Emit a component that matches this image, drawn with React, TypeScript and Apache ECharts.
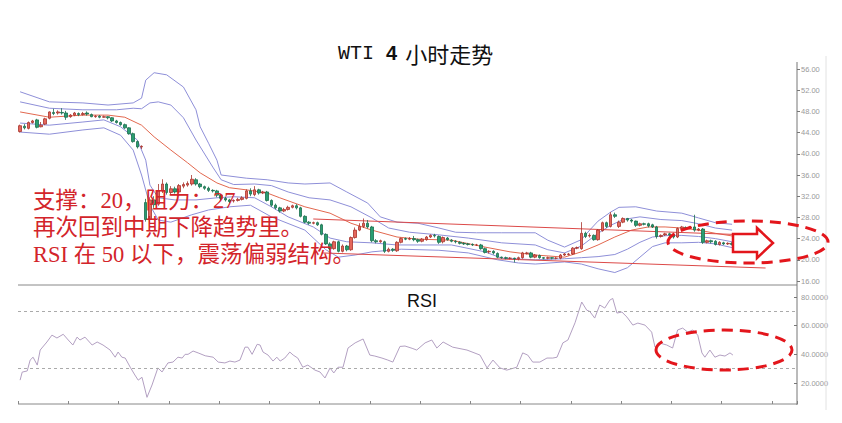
import React, { useEffect, useRef } from "react";
import * as echarts from "echarts";

// ---------- data ----------
const CATEGORY_COUNT = 186; // chart keeps empty room on the right for the annotation arrow

// [open, close, low, high] per 4-hour candle
const candles: [number, number, number, number][] = [
  [44.2, 45.3, 44.0, 45.5], [45.2, 44.9, 44.6, 45.6], [44.8, 45.9, 44.6, 46.1], [45.9, 46.2, 45.7, 46.4],
  [46.4, 45.0, 44.8, 46.6], [45.1, 45.4, 45.0, 46.0], [45.6, 46.6, 45.4, 46.8], [46.7, 47.9, 46.5, 48.0],
  [47.8, 47.6, 47.3, 48.5], [47.7, 47.9, 47.4, 48.2], [47.8, 47.7, 47.4, 48.6], [47.7, 46.9, 46.4, 48.1],
  [47.0, 47.3, 46.8, 47.5], [47.3, 47.7, 47.1, 47.9], [47.6, 47.4, 47.1, 47.8], [47.4, 47.6, 47.2, 47.9],
  [47.7, 47.5, 47.2, 48.0], [47.4, 47.0, 46.9, 47.6], [47.0, 47.1, 46.8, 47.3], [47.1, 46.9, 46.7, 47.3],
  [46.9, 47.0, 46.8, 47.2], [47.0, 46.8, 46.5, 47.1], [46.8, 46.2, 46.0, 46.9], [46.2, 45.9, 45.7, 46.4],
  [45.9, 45.5, 45.3, 46.1], [45.5, 44.9, 44.7, 45.7], [44.9, 43.8, 43.6, 45.0], [43.8, 42.3, 42.1, 44.0],
  [42.3, 41.3, 41.0, 42.5], [41.3, 41.4, 40.9, 41.6], [30.8, 27.6, 27.2, 31.5], [27.6, 31.3, 27.0, 31.8],
  [31.3, 30.4, 29.8, 32.0], [30.5, 33.0, 30.2, 34.3], [33.0, 34.3, 32.6, 35.2], [34.3, 32.7, 32.3, 34.6],
  [32.7, 33.4, 32.4, 33.9], [33.4, 32.8, 32.5, 33.8], [32.8, 34.0, 32.6, 34.3], [33.9, 34.2, 33.5, 34.6],
  [34.1, 34.4, 33.8, 34.8], [34.3, 35.2, 34.0, 36.0], [35.1, 34.3, 34.0, 35.4], [34.3, 33.8, 33.5, 34.5],
  [33.8, 33.5, 33.2, 34.0], [33.5, 33.1, 32.8, 33.8], [33.1, 33.0, 32.7, 33.3], [33.0, 32.2, 31.8, 33.2],
  [32.2, 31.6, 31.3, 32.4], [31.6, 31.3, 31.0, 31.9], [31.3, 31.0, 30.7, 31.5], [31.1, 31.2, 30.8, 31.4],
  [31.2, 31.4, 31.0, 31.7], [31.4, 31.7, 31.2, 32.0], [31.6, 33.0, 31.4, 33.3], [33.0, 32.4, 32.0, 33.5],
  [32.3, 33.2, 32.0, 33.9], [33.2, 32.6, 32.3, 33.4], [32.6, 32.8, 32.4, 33.0], [32.8, 31.2, 31.0, 33.0],
  [31.2, 30.3, 30.0, 31.4], [30.3, 29.8, 29.5, 30.6], [29.8, 29.2, 28.9, 30.0], [29.2, 29.5, 29.0, 29.8],
  [29.5, 29.9, 29.3, 30.2], [29.9, 30.2, 29.7, 30.4], [30.2, 29.8, 29.5, 30.5], [29.8, 28.2, 28.0, 30.0],
  [28.2, 27.1, 26.9, 28.4], [27.1, 26.9, 26.6, 27.3], [26.9, 27.0, 26.7, 27.2], [27.0, 26.6, 26.4, 27.2],
  [26.6, 24.8, 24.6, 26.8], [24.8, 23.0, 22.8, 25.0], [23.0, 22.1, 21.8, 23.3], [22.1, 23.4, 21.9, 23.6],
  [23.4, 21.6, 21.4, 23.6], [21.6, 22.6, 21.4, 22.9], [22.6, 21.9, 21.6, 22.8], [21.9, 24.2, 21.7, 24.4],
  [24.2, 25.6, 24.0, 26.1], [25.6, 26.3, 25.4, 26.9], [26.3, 26.9, 26.0, 27.8], [26.9, 26.2, 25.9, 27.5],
  [26.2, 23.6, 23.3, 26.4], [23.6, 23.4, 23.1, 23.9], [23.4, 23.6, 23.2, 23.8], [23.4, 21.6, 21.3, 23.6],
  [21.6, 22.0, 21.4, 22.3], [22.0, 21.8, 21.5, 22.2], [21.7, 23.3, 21.5, 23.5], [23.3, 24.0, 23.1, 24.2],
  [24.0, 23.9, 23.7, 24.2], [23.9, 24.0, 23.7, 24.3], [24.0, 23.8, 23.5, 24.5], [23.8, 23.5, 23.2, 24.0],
  [23.5, 23.9, 23.3, 24.1], [23.8, 24.3, 23.6, 24.5], [24.3, 24.6, 24.1, 24.8], [24.6, 24.5, 24.2, 24.9],
  [24.4, 23.3, 23.0, 24.6], [23.4, 24.2, 23.1, 24.4], [24.1, 23.8, 23.6, 24.3], [23.7, 23.5, 23.3, 23.9],
  [23.5, 23.4, 23.1, 23.7], [23.3, 23.1, 22.9, 23.5], [23.1, 23.0, 22.8, 23.3], [23.0, 22.9, 22.7, 23.2],
  [22.9, 22.8, 22.6, 23.1], [22.8, 22.8, 22.6, 23.0], [22.8, 22.1, 21.9, 23.0], [22.1, 21.4, 21.2, 22.3],
  [21.5, 21.6, 21.2, 21.8], [21.6, 21.3, 21.0, 21.8], [21.2, 20.5, 20.3, 21.4], [20.5, 20.4, 20.2, 20.6],
  [20.4, 20.3, 20.1, 20.6], [20.3, 20.3, 20.1, 20.5], [20.3, 20.2, 19.5, 20.4], [20.2, 20.4, 19.9, 20.6],
  [20.4, 21.3, 20.2, 21.5], [21.2, 21.3, 21.0, 21.5], [21.3, 20.5, 20.3, 21.5], [20.5, 20.9, 20.3, 21.1],
  [20.8, 20.4, 20.2, 21.0], [20.4, 20.3, 20.1, 20.5], [20.3, 20.4, 20.1, 20.6], [20.4, 20.3, 20.1, 20.5],
  [20.3, 20.3, 20.1, 20.5], [20.3, 20.9, 20.1, 21.1], [20.9, 21.1, 20.7, 21.3], [21.0, 21.1, 20.8, 21.3],
  [21.1, 22.2, 20.9, 22.4], [22.2, 22.3, 22.0, 22.5], [22.1, 25.0, 21.9, 27.1], [25.0, 24.4, 24.1, 25.3],
  [24.5, 24.6, 24.2, 25.0], [24.6, 23.8, 23.6, 24.8], [23.8, 25.6, 23.6, 25.8], [25.5, 27.0, 25.3, 27.2],
  [27.0, 26.3, 26.0, 27.2], [26.3, 28.5, 26.1, 29.0], [28.5, 28.2, 27.9, 28.9], [26.3, 27.1, 26.0, 27.4],
  [27.1, 27.8, 26.9, 28.0], [27.8, 27.5, 27.2, 27.9], [27.5, 27.3, 27.0, 27.7], [27.3, 26.5, 26.2, 27.4],
  [26.5, 26.8, 26.3, 27.0], [26.8, 26.7, 26.5, 27.0], [26.8, 26.4, 26.1, 27.0], [26.6, 26.2, 26.0, 26.8],
  [26.2, 24.4, 24.0, 26.4], [24.4, 24.6, 24.2, 24.8], [24.7, 24.9, 24.5, 25.1], [24.9, 24.7, 24.5, 25.1],
  [24.8, 24.3, 24.0, 25.0], [24.3, 25.9, 24.1, 26.1], [25.9, 26.2, 25.7, 26.4], [26.1, 26.0, 25.8, 26.3],
  [26.0, 26.2, 25.8, 26.4], [26.2, 25.6, 25.3, 28.5], [25.6, 25.8, 25.4, 26.0], [25.8, 23.3, 23.0, 26.0],
  [23.3, 23.6, 23.1, 23.8], [23.6, 23.4, 23.1, 23.8], [23.5, 22.9, 22.7, 23.7], [22.9, 23.3, 22.7, 23.5],
  [23.2, 23.0, 22.8, 23.4], [23.0, 23.1, 22.8, 23.3], [23.1, 22.9, 22.7, 23.3],
];

// Bollinger band readings [candle index, price]
const bandUpper2: [number, number][] = [
  [0, 51.7], [7, 49.8], [15, 49.6], [21, 49.2], [27, 49.6], [29, 50.5], [30, 53.9], [32, 55.3], [35, 54.9],
  [39, 52.6], [42, 48.3], [43, 45.1], [45, 42.0], [47, 38.8], [48, 36.0], [54, 35.4], [59, 35.1], [64, 34.5],
  [68, 34.3], [74, 34.5], [78, 32.8], [83, 30.7], [86, 28.1], [90, 27.1], [95, 26.9], [100, 26.0], [104, 25.2],
  [109, 25.1], [115, 25.1], [123, 25.1], [126, 23.7], [130, 22.4], [134, 23.8], [136, 25.6], [138, 27.3],
  [141, 29.0], [143, 29.9], [147, 30.0], [152, 29.2], [158, 28.8], [162, 27.9], [166, 27.0], [170, 26.7],
];
const bandUpper1: [number, number][] = [
  [0, 49.8], [7, 48.6], [15, 48.3], [23, 48.3], [27, 48.6], [29, 48.5], [31, 49.6], [33, 49.8], [36, 49.2],
  [39, 46.8], [42, 42.6], [46, 37.5], [48, 35.1], [51, 34.2], [56, 34.3], [60, 34.0], [64, 32.8], [69, 31.7],
  [74, 31.3], [79, 30.0], [84, 27.9], [88, 26.0], [93, 25.2], [100, 24.7], [107, 24.1], [115, 23.2],
  [123, 22.8], [126, 21.9], [130, 21.3], [134, 22.6], [138, 25.0], [141, 26.5], [144, 27.6], [148, 28.1],
  [153, 27.6], [158, 27.4], [162, 26.8], [166, 26.0], [170, 25.6],
];
const bandMiddle: [number, number][] = [
  [0, 47.9], [7, 46.9], [15, 47.3], [21, 47.3], [25, 46.9], [29, 45.4], [32, 43.2], [36, 40.7], [40, 38.3],
  [43, 36.4], [47, 34.5], [50, 33.6], [54, 33.2], [59, 32.6], [62, 31.7], [68, 30.0], [74, 28.8], [79, 26.9],
  [84, 25.6], [90, 24.3], [95, 23.9], [103, 23.7], [111, 22.4], [117, 21.5], [123, 20.9], [130, 20.5],
  [134, 21.5], [138, 22.8], [142, 24.3], [146, 25.6], [150, 26.2], [154, 26.2], [158, 26.0], [162, 25.6],
  [166, 25.0], [170, 24.5],
];
const bandLower1: [number, number][] = [
  [0, 45.8], [7, 45.4], [15, 46.0], [20, 46.4], [24, 45.1], [28, 42.6], [30, 38.8], [31, 34.1], [33, 31.7],
  [37, 31.3], [42, 31.3], [47, 31.7], [51, 31.9], [56, 31.7], [60, 30.0], [64, 28.1], [70, 26.2], [74, 24.1],
  [78, 23.4], [84, 23.2], [90, 22.8], [95, 22.8], [103, 22.8], [111, 21.5], [115, 20.3], [123, 20.0],
  [130, 20.2], [134, 20.4], [138, 20.6], [142, 21.0], [145, 22.0], [148, 23.3], [151, 24.3], [155, 24.6],
  [158, 24.6], [162, 24.4], [166, 24.0], [170, 23.4],
];
const bandLower2: [number, number][] = [
  [0, 44.1], [7, 43.7], [15, 44.5], [20, 44.9], [24, 43.5], [27, 40.7], [29, 36.0], [31, 30.3], [33, 27.5],
  [36, 27.1], [41, 28.5], [45, 29.4], [50, 30.0], [55, 30.3], [60, 28.1], [68, 25.6], [73, 21.9], [76, 20.5],
  [80, 20.9], [84, 21.5], [91, 22.0], [100, 21.8], [107, 21.3], [114, 20.0], [119, 19.4], [123, 19.2],
  [130, 19.6], [134, 19.2], [138, 18.3], [142, 17.6], [145, 18.5], [148, 20.5], [151, 22.5], [154, 23.2],
  [158, 23.2], [162, 23.3], [166, 23.0], [170, 22.3],
];

// hand-drawn trend channel [candle index, price]
const trendUpper: [number, number][] = [[70, 27.7], [170, 24.8]];
const trendLower: [number, number][] = [[72, 21.3], [178, 18.45]];

// RSI readings [candle index, value]
const rsiPoints: [number, number][] = [
  [0, 22], [0.5, 27.6], [1.7, 28.4], [2.4, 36], [3.1, 38], [4.1, 32.5], [4.8, 43], [6.4, 48.6], [7.6, 53.4],
  [8.8, 51.4], [10.3, 54], [11.5, 50], [12.6, 46.5], [13.6, 52], [14.3, 50], [15.5, 52], [17.2, 46.5],
  [18.4, 48.6], [19.8, 46.5], [21.5, 43], [22.7, 38], [23.4, 41.6], [24.3, 38], [25.1, 37.4], [26.3, 31],
  [27.4, 25.6], [28.2, 22], [29.1, 24], [30.3, 10], [31.5, 18.6], [32.9, 30.5], [33.9, 27.7], [35.3, 34],
  [36.5, 34.6], [37.7, 38], [38.7, 37.4], [39.4, 40], [40.1, 40], [41.3, 42.3], [42.5, 41], [44.2, 39],
  [46.1, 38], [47.3, 34.6], [48.9, 34], [50.1, 35.3], [51.3, 34.6], [52.5, 36], [53.7, 45], [54.4, 45],
  [55.4, 40], [56.6, 47], [57.3, 46.5], [58.0, 41.6], [59.2, 39.5], [60.4, 35.3], [61.3, 38], [62.1, 35.3],
  [63.2, 37.4], [64.4, 41.6], [65.2, 39.5], [66.3, 37.4], [67.5, 31], [68.7, 32.5], [70.4, 29], [71.6, 27.7],
  [72.8, 23.5], [74.0, 30.5], [74.9, 27], [75.9, 31], [77.1, 31], [78.3, 44.4], [80.0, 48], [81.9, 50.7],
  [83.5, 39.5], [84.7, 38.8], [86.4, 37.4], [87.8, 36], [89.0, 34.6], [90.7, 45.5], [91.9, 45.8],
  [93.6, 44.2], [94.7, 43], [96.7, 48], [98.3, 50], [99.5, 44.4], [101.0, 48.6], [103.3, 45], [106.7, 43],
  [109.8, 39.5], [111.5, 30.5], [112.9, 36], [114.6, 30.5], [116.2, 29], [118.6, 31], [120.0, 41],
  [121.2, 39.5], [122.4, 34.6], [124.1, 34.6], [125.8, 37.4], [127.2, 37.4], [128.2, 38], [129.6, 48],
  [130.8, 50], [132.5, 62], [134.1, 76.5], [135.3, 70.8], [136.0, 70], [137.2, 65.3], [138.4, 74.4],
  [139.6, 72.3], [140.8, 77.8], [141.5, 79], [142.5, 68.8], [143.7, 69.5], [144.9, 66], [146.3, 60.4],
  [147.5, 61.8], [149.2, 60.4], [150.8, 55.5], [151.6, 45], [152.7, 47.9], [154.4, 46.5], [155.8, 44.4],
  [157.0, 57], [158.2, 58.3], [159.4, 55.5], [160.6, 57], [161.8, 53.4], [162.8, 41], [163.5, 38],
  [164.7, 43], [165.9, 38], [167.1, 39.5], [168.3, 38.8], [169.5, 41], [170.2, 39.5],
];
const rsiLevels = [70, 30];

const titleParts = ["WTI", "4", "小时走势"];
const noteLines = ["支撑：20，阻力：27", "再次回到中期下降趋势里。", "RSI 在 50 以下，震荡偏弱结构。"];

// ---------- component ----------
export default function App() {
  const ref = useRef<HTMLDivElement>(null);

  useEffect(() => {
    if (!ref.current) return;
    const chart = echarts.init(ref.current, undefined, { renderer: "svg" });
    const categories = Array.from({ length: CATEGORY_COUNT }, (_, i) => String(i));
    const bandColor = "#8e8fd8";
    const red = "#e3161c";
    const band = (data: [number, number][], color: string) => ({
      type: "line",
      xAxisIndex: 0,
      yAxisIndex: 0,
      data,
      showSymbol: false,
      silent: true,
      lineStyle: { color, width: 1 },
      z: 1,
    });
    const noteFont = "'Liberation Serif', 'Noto Sans CJK SC', serif";

    chart.setOption({
      animation: false,
      backgroundColor: "#ffffff",
      title: {
        text: `{a|${titleParts[0]}}{b|${titleParts[1]}}{c|${titleParts[2]}}`,
        left: 333,
        top: 37,
        textStyle: {
          fontWeight: "normal",
          rich: {
            a: { fontFamily: "'Liberation Mono', monospace", fontSize: 20, fontWeight: "normal", color: "#111" },
            b: {
              fontFamily: "'Liberation Sans', Arial, sans-serif",
              fontWeight: "bold",
              fontSize: 20,
              color: "#111",
              padding: [0, 8, 0, 12],
            },
            c: { fontFamily: "'Noto Sans CJK SC', sans-serif", fontSize: 22, fontWeight: "normal", color: "#111" },
          },
        },
      },
      grid: [
        { left: 18, right: 45, top: 69, height: 212 },
        { left: 18, right: 45, top: 297, height: 86 },
      ],
      xAxis: [
        { type: "category", gridIndex: 0, data: categories, boundaryGap: true, show: false },
        {
          type: "value",
          gridIndex: 1,
          min: -0.5,
          max: CATEGORY_COUNT - 0.5,
          interval: 12,
          offset: 21,
          axisLine: { show: false, onZero: false },
          axisTick: { show: true, inside: true, length: 3, lineStyle: { color: "#888" } },
          axisLabel: { show: false },
          splitLine: { show: false },
        },
      ],
      yAxis: [
        {
          type: "value",
          gridIndex: 0,
          position: "right",
          min: 16,
          max: 56,
          interval: 4,
          axisLine: { show: false, onZero: false },
          axisTick: { show: true, length: 3, lineStyle: { color: "#777" } },
          axisLabel: {
            formatter: (v: number) => v.toFixed(2),
            fontSize: 7.5,
            color: "#9a9a9a",
            margin: 4,
            fontFamily: "'Liberation Sans', Arial, sans-serif",
          },
          splitLine: { show: false },
        },
        {
          type: "value",
          gridIndex: 1,
          position: "right",
          min: 20,
          max: 80,
          interval: 20,
          axisLine: { show: false, onZero: false },
          axisTick: { show: true, inside: true, length: 3, lineStyle: { color: "#777" } },
          axisLabel: {
            formatter: (v: number) => v.toFixed(4),
            fontSize: 7.5,
            color: "#9a9a9a",
            margin: 4,
            fontFamily: "'Liberation Sans', Arial, sans-serif",
          },
          splitLine: { show: false },
        },
      ],
      series: [
        band(bandUpper2, bandColor),
        band(bandUpper1, bandColor),
        band(bandLower1, bandColor),
        band(bandLower2, bandColor),
        band(bandMiddle, "#e2684f"),
        band(trendUpper, "#dc4a48"),
        band(trendLower, "#dc4a48"),
        {
          type: "candlestick",
          xAxisIndex: 0,
          yAxisIndex: 0,
          data: candles,
          barWidth: 3,
          z: 3,
          itemStyle: {
            color: "#e4675c",
            color0: "#2a9d72",
            borderColor: "#a8332c",
            borderColor0: "#1b6e4c",
            borderWidth: 0.8,
          },
        },
        {
          type: "line",
          xAxisIndex: 1,
          yAxisIndex: 1,
          data: rsiPoints,
          showSymbol: false,
          clip: false,
          lineStyle: { color: "#b3a0c2", width: 1 },
          markLine: {
            silent: true,
            symbol: "none",
            label: { show: false },
            lineStyle: { color: "#aaaaaa", type: [3, 3], width: 1 },
            data: rsiLevels.map((v) => ({ yAxis: v })),
          },
        },
      ],
      graphic: [
        { type: "line", shape: { x1: 18, y1: 285, x2: 797, y2: 285 }, style: { stroke: "#888", lineWidth: 1 }, z: 5 },
        { type: "line", shape: { x1: 18, y1: 404, x2: 797, y2: 404 }, style: { stroke: "#888", lineWidth: 1 }, z: 5 },
        { type: "line", shape: { x1: 797, y1: 62, x2: 797, y2: 405 }, style: { stroke: "#777", lineWidth: 1 }, z: 5 },
        { type: "line", shape: { x1: 826, y1: 56, x2: 826, y2: 410 }, style: { stroke: "#e2e2e2", lineWidth: 1 }, z: 5 },
        {
          type: "text",
          x: 407,
          y: 301,
          style: { text: "RSI", fontSize: 18, fontFamily: "'Liberation Sans', Arial, sans-serif", fill: "#111", verticalAlign: "middle" },
          z: 10,
        },
        ...noteLines.map((t, k) => ({
          type: "text",
          x: 33,
          y: 200 + k * 27,
          style: { text: t, fontSize: 22.5, fontFamily: noteFont, fill: "#d3242a", verticalAlign: "middle" },
          z: 20,
        })),
        {
          type: "ellipse",
          shape: { cx: 748, cy: 242, rx: 80, ry: 21 },
          style: { fill: "none", stroke: red, lineWidth: 3, lineDash: [11, 7] },
          z: 20,
        },
        {
          type: "ellipse",
          shape: { cx: 724, cy: 350, rx: 68, ry: 20 },
          style: { fill: "none", stroke: red, lineWidth: 3, lineDash: [11, 7] },
          z: 20,
        },
        {
          type: "polygon",
          shape: {
            points: [[733, 234], [757, 234], [757, 228], [773, 243], [757, 258], [757, 252], [733, 252]],
          },
          style: { fill: "#ffffff", stroke: red, lineWidth: 2.5 },
          z: 21,
        },
      ],
    });
    return () => chart.dispose();
  }, []);

  return (
    <div
      ref={ref}
      style={{ position: "fixed", left: 0, top: 0, width: 842, height: 423, background: "#fff" }}
    />
  );
}
